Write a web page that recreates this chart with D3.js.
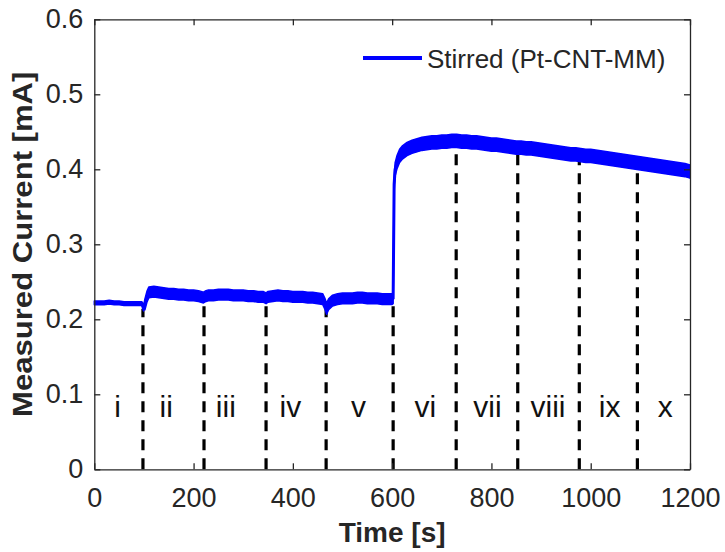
<!DOCTYPE html>
<html>
<head>
<meta charset="utf-8">
<script src="https://cdn.jsdelivr.net/npm/d3@7"></script>
<style>
  body { margin: 0; background: #fff; }
  svg { display: block; font-family: "Liberation Sans", Arial, sans-serif; }
  .axis path, .axis line { stroke: #262626; stroke-width: 1.3; }
  .axis text { fill: #262626; font-size: 27px; font-family: "Liberation Sans", Arial, sans-serif; }
</style>
</head>
<body>
<svg id="chart" width="725" height="552"></svg>
<script>
// measured current trace (centre of the noisy band)
const time = [0, 10, 20, 30, 40, 50, 60, 70, 80, 90, 96, 99, 102, 106, 110, 120, 130, 140, 150, 160,
  170, 180, 190, 200, 210, 220, 225, 230, 240, 250, 260, 270, 280, 290, 300, 310, 320, 330, 340, 346,
  350, 360, 370, 380, 390, 400, 410, 420, 430, 440, 450, 460, 465, 468, 472, 480, 490, 500, 510, 520,
  530, 540, 550, 560, 570, 580, 590, 600, 602, 604, 606, 610, 615, 620, 630, 640, 650, 660, 670, 680,
  690, 700, 710, 720, 730, 740, 750, 760, 770, 780, 790, 800, 810, 820, 830, 840, 850, 860, 870, 880,
  890, 900, 910, 920, 930, 940, 950, 960, 970, 980, 990, 1000, 1010, 1020, 1030, 1040, 1050, 1060, 1070, 1080,
  1090, 1100, 1110, 1120, 1130, 1140, 1150, 1160, 1170, 1180, 1190, 1200];
const current = [0.222, 0.222, 0.222, 0.223, 0.222, 0.222, 0.221, 0.221, 0.221, 0.221, 0.221, 0.215, 0.220, 0.230, 0.236, 0.237, 0.236, 0.235, 0.234, 0.234,
  0.233, 0.233, 0.232, 0.232, 0.231, 0.229, 0.231, 0.232, 0.232, 0.233, 0.233, 0.233, 0.232, 0.232, 0.232, 0.231, 0.231, 0.230, 0.230, 0.228,
  0.230, 0.231, 0.232, 0.231, 0.231, 0.230, 0.230, 0.230, 0.229, 0.229, 0.228, 0.227, 0.220, 0.214, 0.220, 0.225, 0.227, 0.228, 0.228, 0.228,
  0.229, 0.229, 0.228, 0.228, 0.228, 0.227, 0.227, 0.227, 0.228, 0.380, 0.400, 0.410, 0.418, 0.422, 0.427, 0.430, 0.432, 0.434, 0.435, 0.436,
  0.436, 0.437, 0.437, 0.438, 0.438, 0.437, 0.437, 0.436, 0.436, 0.435, 0.434, 0.433, 0.433, 0.432, 0.431, 0.430, 0.429, 0.429, 0.428, 0.428,
  0.427, 0.426, 0.425, 0.424, 0.423, 0.422, 0.421, 0.420, 0.420, 0.419, 0.418, 0.418, 0.417, 0.416, 0.415, 0.414, 0.413, 0.412, 0.411, 0.410,
  0.409, 0.408, 0.407, 0.406, 0.405, 0.404, 0.403, 0.402, 0.401, 0.400, 0.399, 0.397];
// half-width of the noise band, per stretch of the run
const noiseFrom = [0, 100, 604];
const noiseAmp = [0.0025, 0.0072, 0.0088];

// stage boundaries (dashed lines) and where they meet the trace
const dividerTimes = [98, 221, 346, 467, 602, 729, 853, 977, 1094];
const dividerTops = [0.214, 0.229, 0.228, 0.214, 0.228, 0.436, 0.427, 0.417, 0.406];

const stageLabels = ['i', 'ii', 'iii', 'iv', 'v', 'vi', 'vii', 'viii', 'ix', 'x'];
const stageTimes = [47, 145, 265, 395, 532, 667, 792, 914, 1038, 1150];
const stageLevel = 0.07;

const xTicks = [0, 200, 400, 600, 800, 1000, 1200];
const yTicks = [0, 0.1, 0.2, 0.3, 0.4, 0.5, 0.6];

const svg = d3.select('#chart');
const x = d3.scaleLinear().domain([0, 1200]).range([94.3, 690]);
const y = d3.scaleLinear().domain([0, 0.6]).range([469.3, 19.3]);

const ampAt = t => noiseAmp[d3.bisectRight(noiseFrom, t) - 1];
const points = time.map((t, i) => ({ t, v: current[i], a: ampAt(t) }));

// dashed stage dividers (behind the trace)
svg.append('g').selectAll('line').data(dividerTimes).enter().append('line')
  .attr('x1', d => x(d)).attr('x2', d => x(d))
  .attr('y1', y(0)).attr('y2', (d, i) => y(dividerTops[i]))
  .attr('stroke', '#000').attr('stroke-width', 3.2)
  .attr('stroke-dasharray', '11,8');

// trace: noise band + centre line
svg.append('path').datum(points)
  .attr('d', d3.area().x(d => x(d.t)).y0(d => y(d.v - d.a)).y1(d => y(d.v + d.a)))
  .attr('fill', '#0000ff').attr('stroke', '#0000ff').attr('stroke-width', 1.5)
  .attr('stroke-linejoin', 'round');
svg.append('path').datum(points)
  .attr('d', d3.line().x(d => x(d.t)).y(d => y(d.v)))
  .attr('fill', 'none').attr('stroke', '#0000ff').attr('stroke-width', 3);

// stage labels
svg.append('g').selectAll('text').data(stageLabels).enter().append('text')
  .attr('x', (d, i) => x(stageTimes[i])).attr('y', y(stageLevel))
  .attr('text-anchor', 'middle').attr('font-size', 30).attr('fill', '#111')
  .text(d => d);

// axes (box, ticks inward)
svg.append('g').attr('class', 'axis').attr('transform', `translate(0,${y(0)})`)
  .call(d3.axisBottom(x).tickValues(xTicks).tickSizeInner(-6).tickSizeOuter(0).tickPadding(19)
    .tickFormat(d3.format('d')));
svg.append('g').attr('class', 'axis').attr('transform', `translate(0,${y(0.6)})`)
  .call(d3.axisTop(x).tickValues(xTicks).tickSizeInner(-6).tickSizeOuter(0).tickFormat(''));
svg.append('g').attr('class', 'axis').attr('transform', `translate(${x(0)},0)`)
  .call(d3.axisLeft(y).tickValues(yTicks).tickSizeInner(-6).tickSizeOuter(0).tickPadding(11)
    .tickFormat(d => d === 0 ? '0' : d3.format('.1f')(d)));
svg.append('g').attr('class', 'axis').attr('transform', `translate(${x(1200)},0)`)
  .call(d3.axisRight(y).tickValues(yTicks).tickSizeInner(-6).tickSizeOuter(0).tickFormat(''));

// axis titles
svg.append('text').attr('x', (x(0) + x(1200)) / 2).attr('y', 542)
  .attr('text-anchor', 'middle').attr('font-size', 28).attr('font-weight', 'bold').attr('fill', '#262626')
  .text('Time [s]');
svg.append('text').attr('transform', `translate(32,${(y(0) + y(0.6)) / 2}) rotate(-90) scale(1.11,1)`)
  .attr('text-anchor', 'middle').attr('font-size', 28).attr('font-weight', 'bold').attr('fill', '#262626')
  .text('Measured Current [mA]');

// legend
const legend = svg.append('g').attr('transform', 'translate(363,58)');
legend.append('line').attr('x1', 0).attr('x2', 59).attr('y1', 0).attr('y2', 0)
  .attr('stroke', '#0000ff').attr('stroke-width', 4);
legend.append('text').attr('x', 64).attr('y', 10).attr('font-size', 26).attr('fill', '#262626')
  .text('Stirred (Pt-CNT-MM)');
</script>
</body>
</html>
